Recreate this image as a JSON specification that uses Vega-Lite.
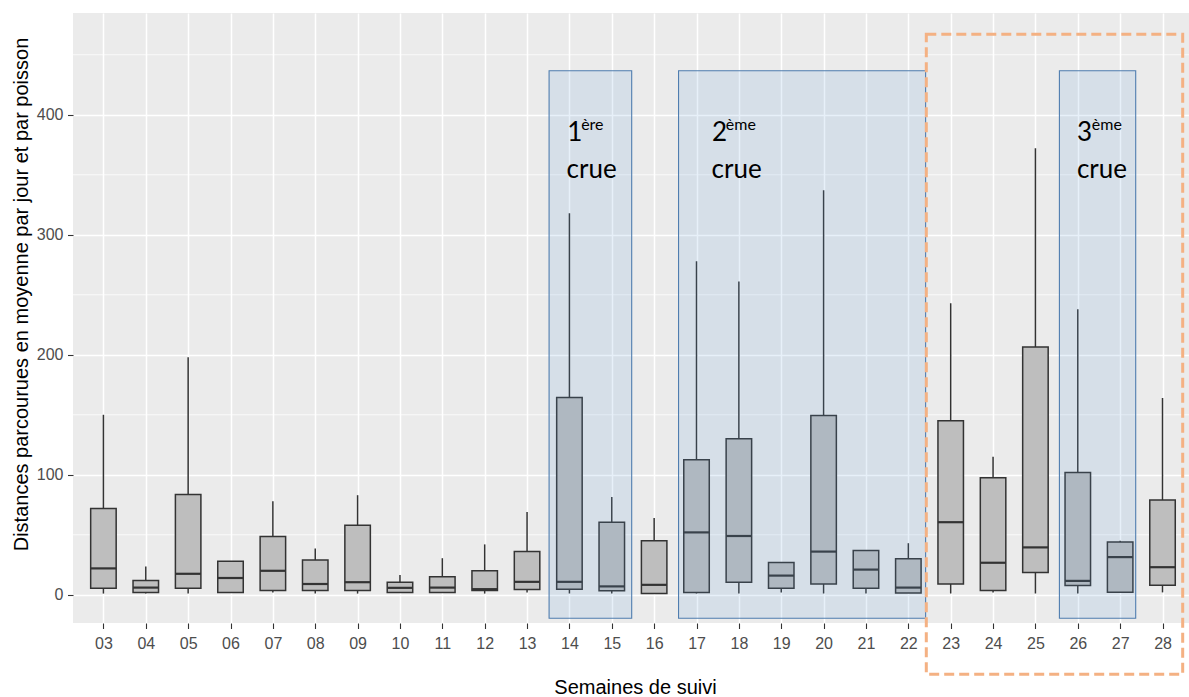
{
  "$schema": "https://vega.github.io/schema/vega-lite/v6.json",
  "width": 1116,
  "height": 610,
  "autosize": {"type": "none"},
  "padding": {"left": 73, "top": 13, "right": 0, "bottom": 74},
  "background": "white",
  "config": {
    "view": {"fill": "#EBEBEB", "stroke": null},
    "axis": {
      "domain": false,
      "tickColor": "#333333",
      "tickSize": 5.5,
      "tickWidth": 1.1,
      "labelColor": "#4D4D4D",
      "labelFont": "Liberation Sans",
      "labelFontSize": 16,
      "titleFont": "Liberation Sans",
      "titleFontSize": 20,
      "titleFontWeight": "normal",
      "titleColor": "#000000",
      "gridColor": "#FFFFFF",
      "gridWidth": 1.5,
      "gridOpacity": 1
    }
  },
  "datasets": {
    "boxes": [
      {"week": 3, "lower": 1, "q1": 5.5, "median": 22, "q3": 72, "upper": 150},
      {"week": 4, "lower": 1, "q1": 2, "median": 6, "q3": 12, "upper": 23.5},
      {"week": 5, "lower": 1, "q1": 5.5, "median": 17.5, "q3": 83.5, "upper": 198},
      {"week": 6, "lower": 2, "q1": 2, "median": 14, "q3": 28, "upper": 28},
      {"week": 7, "lower": 2, "q1": 3.6, "median": 20, "q3": 48.5, "upper": 78},
      {"week": 8, "lower": 1, "q1": 3.6, "median": 9, "q3": 29, "upper": 38.5},
      {"week": 9, "lower": 1, "q1": 3.6, "median": 10.5, "q3": 58, "upper": 83},
      {"week": 10, "lower": 2, "q1": 2, "median": 5.8, "q3": 10.5, "upper": 16.5},
      {"week": 11, "lower": 2, "q1": 2, "median": 6, "q3": 15, "upper": 30.5},
      {"week": 12, "lower": 1, "q1": 3.6, "median": 4.7, "q3": 20, "upper": 42},
      {"week": 13, "lower": 2, "q1": 4.4, "median": 10.8, "q3": 36, "upper": 69},
      {"week": 14, "lower": 1, "q1": 4.7, "median": 10.8, "q3": 164.5, "upper": 318},
      {"week": 15, "lower": 1, "q1": 3.3, "median": 7, "q3": 60.5, "upper": 81.5},
      {"week": 16, "lower": 1, "q1": 1, "median": 8.3, "q3": 45, "upper": 64},
      {"week": 17, "lower": 1, "q1": 2, "median": 52, "q3": 112.5, "upper": 278},
      {"week": 18, "lower": 1, "q1": 10.5, "median": 49, "q3": 130, "upper": 261},
      {"week": 19, "lower": 2, "q1": 5.5, "median": 16, "q3": 27, "upper": 27},
      {"week": 20, "lower": 1, "q1": 9, "median": 36, "q3": 149.5, "upper": 337},
      {"week": 21, "lower": 1, "q1": 5.5, "median": 21, "q3": 37, "upper": 37},
      {"week": 22, "lower": 1.5, "q1": 1.5, "median": 6, "q3": 30, "upper": 43},
      {"week": 23, "lower": 1, "q1": 9, "median": 60.5, "q3": 145, "upper": 243},
      {"week": 24, "lower": 2, "q1": 3.6, "median": 26.7, "q3": 97.5, "upper": 115},
      {"week": 25, "lower": 1, "q1": 18.5, "median": 39.5, "q3": 206.5, "upper": 372},
      {"week": 26, "lower": 1, "q1": 7.7, "median": 11.6, "q3": 102, "upper": 238},
      {"week": 27, "lower": 2.2, "q1": 2.2, "median": 31.4, "q3": 44, "upper": 45},
      {"week": 28, "lower": 2, "q1": 8, "median": 23, "q3": 79, "upper": 164}
    ],
    "minor": [{"v": 50}, {"v": 150}, {"v": 250}, {"v": 350}, {"v": 450}],
    "crues": [
      {"x0": 13.52, "x1": 15.47, "y0": -19.6, "y1": 436.7},
      {"x0": 16.576, "x1": 22.408, "y0": -19.6, "y1": 436.7},
      {"x0": 25.566, "x1": 27.367, "y0": -19.6, "y1": 436.7}
    ],
    "zone": [
      {"x0": 22.424, "x1": 28.476, "y0": -66.3, "y1": 467.1}
    ],
    "bigtext": [
      {"xpos": 13.949, "ypos": 378.5, "label": "1"},
      {"xpos": 13.933, "ypos": 347.5, "label": "crue"},
      {"xpos": 17.364, "ypos": 378.5, "label": "2"},
      {"xpos": 17.355, "ypos": 347.5, "label": "crue"},
      {"xpos": 25.98, "ypos": 378.5, "label": "3"},
      {"xpos": 25.98, "ypos": 347.5, "label": "crue"}
    ],
    "suptext": [
      {"xpos": 14.277, "ypos": 387.5, "label": "ère"},
      {"xpos": 17.692, "ypos": 387.5, "label": "ème"},
      {"xpos": 26.331, "ypos": 387.5, "label": "ème"}
    ]
  },
  "layer": [
    {
      "data": {"name": "minor"},
      "mark": {"type": "rule", "color": "#FFFFFF", "strokeWidth": 0.75},
      "encoding": {
        "y": {"field": "v", "type": "quantitative", "scale": {"domain": [-23.5, 484.8], "nice": false, "zero": false},
          "axis": {"title": "Distances parcourues en moyenne par jour et par poisson", "values": [0, 100, 200, 300, 400], "labelPadding": 4.5, "titleX": -45.5, "titleY": 281, "titleAlign": "center", "titleBaseline": "alphabetic", "titleAngle": -90}}
      }
    },
    {
      "data": {"name": "boxes"},
      "mark": {"type": "rule", "color": "#333333", "strokeWidth": 1.5},
      "encoding": {
        "x": {"field": "week", "type": "quantitative", "scale": {"domain": [2.4, 28.507], "nice": false, "zero": false},
          "axis": {"title": "Semaines de suivi", "values": [3,4,5,6,7,8,9,10,11,12,13,14,15,16,17,18,19,20,21,22,23,24,25,26,27,28], "format": "02d", "labelBaseline": "alphabetic", "labelPadding": 20, "labelFlush": false, "labelOverlap": false, "titleX": 562, "titleY": 70, "titleBaseline": "alphabetic"}},
        "y": {"field": "lower", "type": "quantitative", "scale": {"domain": [-23.5, 484.8], "nice": false, "zero": false}},
        "y2": {"field": "upper"}
      }
    },
    {
      "data": {"name": "boxes"},
      "mark": {"type": "bar", "size": 25.5, "fill": "#BEBEBE", "stroke": "#333333", "strokeWidth": 1.5, "orient": "vertical"},
      "encoding": {
        "x": {"field": "week", "type": "quantitative", "scale": {"domain": [2.4, 28.507], "nice": false, "zero": false}},
        "y": {"field": "q1", "type": "quantitative", "scale": {"domain": [-23.5, 484.8], "nice": false, "zero": false}},
        "y2": {"field": "q3"}
      }
    },
    {
      "data": {"name": "boxes"},
      "mark": {"type": "tick", "orient": "horizontal", "size": 25.5, "thickness": 2.2, "color": "#333333", "opacity": 1},
      "encoding": {
        "x": {"field": "week", "type": "quantitative", "scale": {"domain": [2.4, 28.507], "nice": false, "zero": false}},
        "y": {"field": "median", "type": "quantitative", "scale": {"domain": [-23.5, 484.8], "nice": false, "zero": false}}
      }
    },
    {
      "data": {"name": "crues"},
      "mark": {"type": "rect", "fill": "#5B9BD5", "fillOpacity": 0.15, "stroke": "#4F7DAF", "strokeWidth": 1.1},
      "encoding": {
        "x": {"field": "x0", "type": "quantitative", "scale": {"domain": [2.4, 28.507], "nice": false, "zero": false}},
        "x2": {"field": "x1"},
        "y": {"field": "y0", "type": "quantitative", "scale": {"domain": [-23.5, 484.8], "nice": false, "zero": false}},
        "y2": {"field": "y1"}
      }
    },
    {
      "data": {"name": "zone"},
      "mark": {"type": "rect", "fill": null, "fillOpacity": 0, "stroke": "#F4B183", "strokeWidth": 3, "strokeDash": [10, 5]},
      "encoding": {
        "x": {"field": "x0", "type": "quantitative", "scale": {"domain": [2.4, 28.507], "nice": false, "zero": false}},
        "x2": {"field": "x1"},
        "y": {"field": "y0", "type": "quantitative", "scale": {"domain": [-23.5, 484.8], "nice": false, "zero": false}},
        "y2": {"field": "y1"}
      }
    },
    {
      "data": {"name": "bigtext"},
      "mark": {"type": "text", "font": "Lato", "fontSize": 26, "color": "#000000", "align": "left", "baseline": "alphabetic"},
      "encoding": {
        "x": {"field": "xpos", "type": "quantitative", "scale": {"domain": [2.4, 28.507], "nice": false, "zero": false}},
        "y": {"field": "ypos", "type": "quantitative", "scale": {"domain": [-23.5, 484.8], "nice": false, "zero": false}},
        "text": {"field": "label"}
      }
    },
    {
      "data": {"name": "suptext"},
      "mark": {"type": "text", "font": "Lato", "fontSize": 16, "color": "#000000", "align": "left", "baseline": "alphabetic"},
      "encoding": {
        "x": {"field": "xpos", "type": "quantitative", "scale": {"domain": [2.4, 28.507], "nice": false, "zero": false}},
        "y": {"field": "ypos", "type": "quantitative", "scale": {"domain": [-23.5, 484.8], "nice": false, "zero": false}},
        "text": {"field": "label"}
      }
    }
  ]
}
